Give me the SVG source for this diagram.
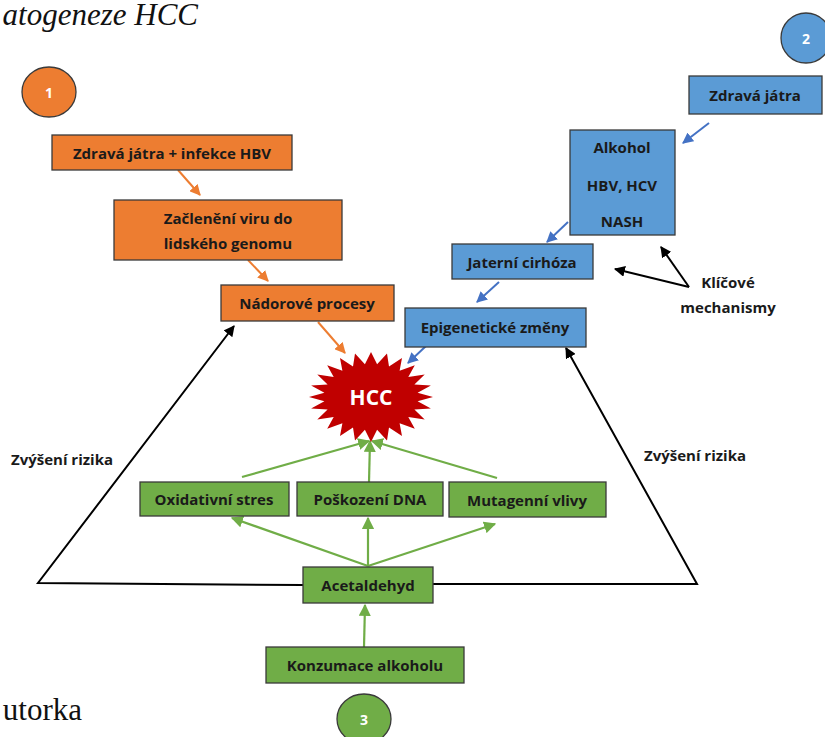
<svg xmlns="http://www.w3.org/2000/svg" width="825" height="737" viewBox="0 0 825 737">
<defs>
<style>
.box{stroke:#3a3a3a;stroke-width:1.3}
.or{fill:#ED7D31}.bl{fill:#5B9BD5}.gr{fill:#70AD47}
.t{font-family:"Open Sans","Liberation Sans",Arial,sans-serif;font-weight:bold;font-size:15px;fill:#1a1a1a;text-anchor:middle;dominant-baseline:central}
.w{font-family:"Open Sans","Liberation Sans",Arial,sans-serif;font-weight:bold;font-size:14px;fill:#ffffff;text-anchor:middle;dominant-baseline:central}
.ser{font-family:"Liberation Serif","Times New Roman",serif;font-size:31px;fill:#111}
.ca{stroke:#ED7D31;stroke-width:2;fill:none}
.cb{stroke:#4472C4;stroke-width:2;fill:none}
.cg{stroke:#70AD47;stroke-width:2.2;fill:none}
.ck{stroke:#000;stroke-width:2;fill:none}
</style>
<marker id="mo" viewBox="0 0 10 10" refX="9" refY="5" markerWidth="5.5" markerHeight="5.5" orient="auto"><path d="M0,0L10,5L0,10z" fill="#ED7D31"/></marker>
<marker id="mb" viewBox="0 0 10 10" refX="9" refY="5" markerWidth="5.5" markerHeight="5.5" orient="auto"><path d="M0,0L10,5L0,10z" fill="#4472C4"/></marker>
<marker id="mg" viewBox="0 0 10 10" refX="9" refY="5" markerWidth="5.5" markerHeight="5.5" orient="auto"><path d="M0,0L10,5L0,10z" fill="#70AD47"/></marker>
<marker id="mk" viewBox="0 0 10 10" refX="9" refY="5" markerWidth="5.5" markerHeight="5.5" orient="auto"><path d="M0,0L10,5L0,10z" fill="#000"/></marker>
</defs>
<rect width="825" height="737" fill="#fff"/>
<text class="ser" x="198" y="25" font-style="italic" text-anchor="end">atogeneze HCC</text>
<text class="ser" x="82" y="720" text-anchor="end">utorka</text>

<g id="connectors">
<line class="ca" x1="178" y1="170" x2="200" y2="195" marker-end="url(#mo)"/>
<line class="ca" x1="248" y1="260" x2="268" y2="281" marker-end="url(#mo)"/>
<line class="ca" x1="318" y1="322" x2="345" y2="353" marker-end="url(#mo)"/>
<line class="cb" x1="709" y1="123" x2="683" y2="143" marker-end="url(#mb)"/>
<line class="cb" x1="568" y1="222" x2="547" y2="242" marker-end="url(#mb)"/>
<line class="cb" x1="499" y1="282" x2="477" y2="302" marker-end="url(#mb)"/>
<line class="cb" x1="426" y1="346" x2="408" y2="363" marker-end="url(#mb)"/>
<line class="ck" x1="689" y1="287" x2="615" y2="269" marker-end="url(#mk)"/>
<line class="ck" x1="689" y1="287" x2="661" y2="247" marker-end="url(#mk)"/>
<polyline class="ck" points="303,585 38,583 234,326" marker-end="url(#mk)"/>
<polyline class="ck" points="433,584 697,584 566,348" marker-end="url(#mk)"/>
<line class="cg" x1="242" y1="477" x2="369" y2="441" marker-end="url(#mg)"/>
<line class="cg" x1="369" y1="482" x2="370" y2="441" marker-end="url(#mg)"/>
<line class="cg" x1="497" y1="478" x2="372" y2="441" marker-end="url(#mg)"/>
<line class="cg" x1="368" y1="566" x2="232" y2="518" marker-end="url(#mg)"/>
<line class="cg" x1="368" y1="566" x2="368" y2="518" marker-end="url(#mg)"/>
<line class="cg" x1="368" y1="566" x2="495" y2="524" marker-end="url(#mg)"/>
<line class="cg" x1="364" y1="647" x2="365" y2="605" marker-end="url(#mg)"/>
</g>

<g id="n1"><ellipse class="box or" cx="49" cy="92" rx="27" ry="25"/><text class="w" x="49" y="92">1</text></g>
<g id="n2"><ellipse class="box bl" cx="806" cy="38" rx="25" ry="25"/><text class="w" x="806" y="38">2</text></g>
<g id="n3"><ellipse class="box gr" cx="364" cy="719" rx="27" ry="25"/><text class="w" x="364" y="719">3</text></g>

<g id="zdrava_hbv"><rect class="box or" x="52" y="135" width="240" height="35"/><text class="t" x="172" y="153">Zdravá játra + infekce HBV</text></g>
<g id="zacleneni"><rect class="box or" x="114" y="200" width="228" height="60"/><text class="t" x="228" y="218">Začlenění viru do</text><text class="t" x="228" y="243">lidského genomu</text></g>
<g id="nadorove"><rect class="box or" x="221" y="285" width="173" height="36"/><text class="t" x="307" y="303">Nádorové procesy</text></g>

<g id="zdrava"><rect class="box bl" x="689" y="76" width="133" height="38"/><text class="t" x="755" y="95">Zdravá játra</text></g>
<g id="alkohol"><rect class="box bl" x="570" y="130" width="105" height="105"/><text class="t" x="622" y="147">Alkohol</text><text class="t" x="622" y="185">HBV, HCV</text><text class="t" x="622" y="221">NASH</text></g>
<g id="cirhoza"><rect class="box bl" x="452" y="244" width="141" height="35"/><text class="t" x="522" y="262">Jaterní cirhóza</text></g>
<g id="epigenetic"><rect class="box bl" x="405" y="308" width="181" height="39"/><text class="t" x="495" y="327">Epigenetické změny</text></g>
<g id="klicove"><text class="t" x="728" y="282">Klíčové</text><text class="t" x="728" y="307">mechanismy</text></g>

<g id="hcc"><polygon fill="#C00000" points="433,397 417.6,401.3 430.9,408.6 414.4,409.6 424.7,419.5 408.3,417.1 414.8,428.8 399.6,423.2 402,436 389,427.5 387,440.5 377.1,429.7 371,442 364.9,429.7 355,440.5 353,427.5 340,436 342.4,423.2 327.2,428.8 333.7,417.1 317.3,419.5 327.6,409.6 311.1,408.6 324.4,401.3 309,397 324.4,392.7 311.1,385.4 327.6,384.4 317.3,374.5 333.7,376.9 327.2,365.2 342.4,370.8 340,358 353,366.5 355,353.5 364.9,364.3 371,352 377.1,364.3 387,353.5 389,366.5 402,358 399.6,370.8 414.8,365.2 408.3,376.9 424.7,374.5 414.4,384.4 430.9,385.4 417.6,392.7"/><text class="w" x="371" y="397" style="font-size:21px">HCC</text></g>

<g id="oxid"><rect class="box gr" x="140" y="482" width="149" height="34"/><text class="t" x="214" y="499">Oxidativní stres</text></g>
<g id="poskozeni"><rect class="box gr" x="297" y="482" width="146" height="34"/><text class="t" x="370" y="499">Poškození DNA</text></g>
<g id="mutagen"><rect class="box gr" x="449" y="482" width="157" height="35"/><text class="t" x="527" y="500">Mutagenní vlivy</text></g>
<g id="acet"><rect class="box gr" x="303" y="567" width="130" height="36"/><text class="t" x="368" y="585">Acetaldehyd</text></g>
<g id="konzumace"><rect class="box gr" x="266" y="647" width="198" height="36"/><text class="t" x="365" y="665">Konzumace alkoholu</text></g>

<g id="labels"><text class="t" x="62" y="459">Zvýšení rizika</text><text class="t" x="695" y="455">Zvýšení rizika</text></g>
</svg>
